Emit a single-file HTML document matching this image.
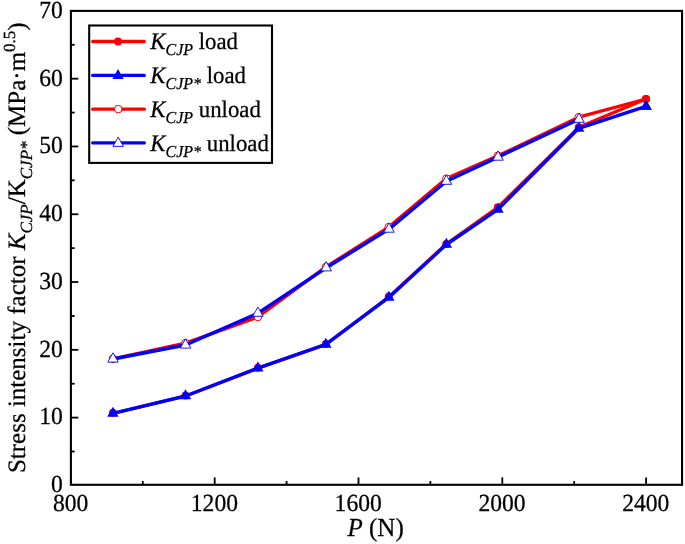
<!DOCTYPE html><html><head><meta charset="utf-8"><title>chart</title><style>html,body{margin:0;padding:0;background:#fff}svg{display:block;will-change:transform}text{font-family:"Liberation Serif",serif;fill:#000;stroke:#000;stroke-width:0.25px;text-rendering:geometricPrecision}</style></head><body>
<svg width="685" height="544" viewBox="0 0 685 544">
<rect width="685" height="544" fill="#fff"/>
<polyline points="112.90,413.40 185.50,396.10 257.85,368.30 325.85,344.50 388.70,297.00 446.20,243.90 497.80,207.30 578.70,127.30 646.00,99.00" fill="none" stroke="#ff0000" stroke-width="3.1" stroke-linejoin="round"/>
<circle cx="112.90" cy="412.80" r="3.95" fill="#ff0000" stroke="#ff0000" stroke-width="0"/>
<circle cx="185.50" cy="395.50" r="3.95" fill="#ff0000" stroke="#ff0000" stroke-width="0"/>
<circle cx="257.85" cy="367.70" r="3.95" fill="#ff0000" stroke="#ff0000" stroke-width="0"/>
<circle cx="325.85" cy="343.90" r="3.95" fill="#ff0000" stroke="#ff0000" stroke-width="0"/>
<circle cx="388.70" cy="296.40" r="3.95" fill="#ff0000" stroke="#ff0000" stroke-width="0"/>
<circle cx="446.20" cy="243.90" r="3.95" fill="#ff0000" stroke="#ff0000" stroke-width="0"/>
<circle cx="497.80" cy="207.30" r="3.95" fill="#ff0000" stroke="#ff0000" stroke-width="0"/>
<circle cx="578.70" cy="127.30" r="3.95" fill="#ff0000" stroke="#ff0000" stroke-width="0"/>
<circle cx="646.00" cy="99.00" r="3.95" fill="#ff0000" stroke="#ff0000" stroke-width="0"/>
<polyline points="112.90,413.30 185.50,396.00 257.85,368.20 325.85,344.40 388.85,297.40 446.40,244.50 498.00,209.40 578.70,128.40 646.00,106.40" fill="none" stroke="#0000ff" stroke-width="3.4" stroke-linejoin="round"/>
<polygon points="112.90,406.63 107.20,416.63 118.60,416.63" fill="#0000ff" stroke="#0000ff" stroke-width="0" stroke-linejoin="miter"/>
<polygon points="185.50,389.33 179.80,399.33 191.20,399.33" fill="#0000ff" stroke="#0000ff" stroke-width="0" stroke-linejoin="miter"/>
<polygon points="257.85,361.53 252.15,371.53 263.55,371.53" fill="#0000ff" stroke="#0000ff" stroke-width="0" stroke-linejoin="miter"/>
<polygon points="325.85,337.73 320.15,347.73 331.55,347.73" fill="#0000ff" stroke="#0000ff" stroke-width="0" stroke-linejoin="miter"/>
<polygon points="388.85,290.73 383.15,300.73 394.55,300.73" fill="#0000ff" stroke="#0000ff" stroke-width="0" stroke-linejoin="miter"/>
<polygon points="446.40,237.83 440.70,247.83 452.10,247.83" fill="#0000ff" stroke="#0000ff" stroke-width="0" stroke-linejoin="miter"/>
<polygon points="498.00,202.73 492.30,212.73 503.70,212.73" fill="#0000ff" stroke="#0000ff" stroke-width="0" stroke-linejoin="miter"/>
<polygon points="578.70,121.73 573.00,131.73 584.40,131.73" fill="#0000ff" stroke="#0000ff" stroke-width="0" stroke-linejoin="miter"/>
<polygon points="646.00,99.73 640.30,109.73 651.70,109.73" fill="#0000ff" stroke="#0000ff" stroke-width="0" stroke-linejoin="miter"/>
<polyline points="113.00,358.80 185.50,343.10 257.90,317.00 326.00,266.90 388.70,227.10 446.40,178.60 497.90,155.80 578.70,117.20 646.00,99.00" fill="none" stroke="#ff0000" stroke-width="3.3" stroke-linejoin="round"/>
<circle cx="113.00" cy="358.80" r="3.80" fill="#fff" stroke="#ff0000" stroke-width="1.0"/>
<circle cx="185.50" cy="343.10" r="3.80" fill="#fff" stroke="#ff0000" stroke-width="1.0"/>
<circle cx="257.90" cy="317.00" r="3.80" fill="#fff" stroke="#ff0000" stroke-width="1.0"/>
<circle cx="326.00" cy="266.90" r="3.80" fill="#fff" stroke="#ff0000" stroke-width="1.0"/>
<circle cx="388.70" cy="227.10" r="3.80" fill="#fff" stroke="#ff0000" stroke-width="1.0"/>
<circle cx="446.40" cy="178.60" r="3.80" fill="#fff" stroke="#ff0000" stroke-width="1.0"/>
<circle cx="497.90" cy="155.80" r="3.80" fill="#fff" stroke="#ff0000" stroke-width="1.0"/>
<circle cx="578.70" cy="117.20" r="3.80" fill="#fff" stroke="#ff0000" stroke-width="1.0"/>
<polyline points="113.00,359.00 185.50,345.00 257.90,313.20 326.20,267.80 389.00,229.10 446.40,181.20 498.00,157.10 579.00,119.20" fill="none" stroke="#0000ff" stroke-width="3.4" stroke-linejoin="round"/>
<polygon points="113.00,352.80 107.75,362.10 118.25,362.10" fill="#fff" stroke="#0000ff" stroke-width="0.9" stroke-linejoin="miter"/>
<polygon points="185.50,338.80 180.25,348.10 190.75,348.10" fill="#fff" stroke="#0000ff" stroke-width="0.9" stroke-linejoin="miter"/>
<polygon points="257.90,307.00 252.65,316.30 263.15,316.30" fill="#fff" stroke="#0000ff" stroke-width="0.9" stroke-linejoin="miter"/>
<polygon points="326.20,261.60 320.95,270.90 331.45,270.90" fill="#fff" stroke="#0000ff" stroke-width="0.9" stroke-linejoin="miter"/>
<polygon points="389.00,222.90 383.75,232.20 394.25,232.20" fill="#fff" stroke="#0000ff" stroke-width="0.9" stroke-linejoin="miter"/>
<polygon points="446.40,175.00 441.15,184.30 451.65,184.30" fill="#fff" stroke="#0000ff" stroke-width="0.9" stroke-linejoin="miter"/>
<polygon points="498.00,150.90 492.75,160.20 503.25,160.20" fill="#fff" stroke="#0000ff" stroke-width="0.9" stroke-linejoin="miter"/>
<polygon points="579.00,113.00 573.75,122.30 584.25,122.30" fill="#fff" stroke="#0000ff" stroke-width="0.9" stroke-linejoin="miter"/>
<circle cx="646.00" cy="99.00" r="4.10" fill="#ff0000" stroke="#ff0000" stroke-width="0"/>
<polygon points="646.00,99.73 640.30,109.73 651.70,109.73" fill="#0000ff" stroke="#0000ff" stroke-width="0" stroke-linejoin="miter"/>
<rect x="70.90" y="10.90" width="611.15" height="473.90" fill="none" stroke="#000" stroke-width="2.1"/>
<line x1="142.80" x2="142.80" y1="484.80" y2="481.00" stroke="#000" stroke-width="1.8"/>
<line x1="214.70" x2="214.70" y1="484.80" y2="477.40" stroke="#000" stroke-width="1.8"/>
<line x1="286.60" x2="286.60" y1="484.80" y2="481.00" stroke="#000" stroke-width="1.8"/>
<line x1="358.50" x2="358.50" y1="484.80" y2="477.40" stroke="#000" stroke-width="1.8"/>
<line x1="430.40" x2="430.40" y1="484.80" y2="481.00" stroke="#000" stroke-width="1.8"/>
<line x1="502.30" x2="502.30" y1="484.80" y2="477.40" stroke="#000" stroke-width="1.8"/>
<line x1="574.20" x2="574.20" y1="484.80" y2="481.00" stroke="#000" stroke-width="1.8"/>
<line x1="646.10" x2="646.10" y1="484.80" y2="477.40" stroke="#000" stroke-width="1.8"/>
<line x1="70.90" x2="74.70" y1="451.51" y2="451.51" stroke="#000" stroke-width="1.8"/>
<line x1="70.90" x2="78.30" y1="417.61" y2="417.61" stroke="#000" stroke-width="1.8"/>
<line x1="70.90" x2="74.70" y1="383.72" y2="383.72" stroke="#000" stroke-width="1.8"/>
<line x1="70.90" x2="78.30" y1="349.83" y2="349.83" stroke="#000" stroke-width="1.8"/>
<line x1="70.90" x2="74.70" y1="315.94" y2="315.94" stroke="#000" stroke-width="1.8"/>
<line x1="70.90" x2="78.30" y1="282.04" y2="282.04" stroke="#000" stroke-width="1.8"/>
<line x1="70.90" x2="74.70" y1="248.15" y2="248.15" stroke="#000" stroke-width="1.8"/>
<line x1="70.90" x2="78.30" y1="214.26" y2="214.26" stroke="#000" stroke-width="1.8"/>
<line x1="70.90" x2="74.70" y1="180.36" y2="180.36" stroke="#000" stroke-width="1.8"/>
<line x1="70.90" x2="78.30" y1="146.47" y2="146.47" stroke="#000" stroke-width="1.8"/>
<line x1="70.90" x2="74.70" y1="112.58" y2="112.58" stroke="#000" stroke-width="1.8"/>
<line x1="70.90" x2="78.30" y1="78.69" y2="78.69" stroke="#000" stroke-width="1.8"/>
<line x1="70.90" x2="74.70" y1="44.79" y2="44.79" stroke="#000" stroke-width="1.8"/>
<text transform="translate(70.60,511.30) scale(1,1.04)" font-size="23.6" text-anchor="middle">800</text>
<text transform="translate(214.40,511.30) scale(1,1.04)" font-size="23.6" text-anchor="middle">1200</text>
<text transform="translate(358.20,511.30) scale(1,1.04)" font-size="23.6" text-anchor="middle">1600</text>
<text transform="translate(502.00,511.30) scale(1,1.04)" font-size="23.6" text-anchor="middle">2000</text>
<text transform="translate(645.80,511.30) scale(1,1.04)" font-size="23.6" text-anchor="middle">2400</text>
<text transform="translate(62.80,492.25) scale(1,1.04)" font-size="23.6" text-anchor="end">0</text>
<text transform="translate(62.80,424.46) scale(1,1.04)" font-size="23.6" text-anchor="end">10</text>
<text transform="translate(62.80,356.68) scale(1,1.04)" font-size="23.6" text-anchor="end">20</text>
<text transform="translate(62.80,288.89) scale(1,1.04)" font-size="23.6" text-anchor="end">30</text>
<text transform="translate(62.80,221.11) scale(1,1.04)" font-size="23.6" text-anchor="end">40</text>
<text transform="translate(62.80,153.32) scale(1,1.04)" font-size="23.6" text-anchor="end">50</text>
<text transform="translate(62.80,85.54) scale(1,1.04)" font-size="23.6" text-anchor="end">60</text>
<text transform="translate(62.80,17.75) scale(1,1.04)" font-size="23.6" text-anchor="end">70</text>
<text transform="translate(375.60,535.90) scale(1,1.04)" font-size="25" text-anchor="middle"><tspan font-style="italic">P</tspan> (N)</text>
<text transform="translate(25.4,473.1) rotate(-90)" font-size="25">Stress intensity factor <tspan font-style="italic">K</tspan><tspan font-style="italic" font-size="17" dy="6.6">CJP</tspan><tspan dy="-6.6">/K</tspan><tspan font-style="italic" font-size="17" dy="6.6">CJP*</tspan><tspan dy="-6.6"> (MPa·m</tspan><tspan font-size="17" dy="-10.6">0.5</tspan><tspan dy="10.6">)</tspan></text>
<rect x="89.2" y="25.5" width="182.8" height="137.4" fill="#fff" stroke="#000" stroke-width="2.1"/>
<line x1="92.7" x2="144.3" y1="41.50" y2="41.50" stroke="#ff0000" stroke-width="3.3" stroke-linecap="round"/>
<circle cx="118.00" cy="41.50" r="3.95" fill="#ff0000" stroke="#ff0000" stroke-width="0"/>
<text transform="translate(150.30,49.20) scale(1,1.04)" font-size="22.8" text-anchor="start"><tspan font-style="italic">K</tspan><tspan font-style="italic" font-size="16" dy="6.0">CJP</tspan><tspan dy="-6.0"> load</tspan></text>
<line x1="92.7" x2="144.3" y1="75.40" y2="75.40" stroke="#0000ff" stroke-width="3.3" stroke-linecap="round"/>
<polygon points="118.00,68.93 112.30,78.93 123.70,78.93" fill="#0000ff" stroke="#0000ff" stroke-width="0" stroke-linejoin="miter"/>
<text transform="translate(150.30,83.10) scale(1,1.04)" font-size="22.8" text-anchor="start"><tspan font-style="italic">K</tspan><tspan font-style="italic" font-size="16" dy="6.0">CJP*</tspan><tspan dy="-6.0"> load</tspan></text>
<line x1="92.7" x2="144.3" y1="109.20" y2="109.20" stroke="#ff0000" stroke-width="3.3" stroke-linecap="round"/>
<circle cx="118.20" cy="109.10" r="3.80" fill="#fff" stroke="#ff0000" stroke-width="1.0"/>
<text transform="translate(150.30,116.90) scale(1,1.04)" font-size="22.8" text-anchor="start"><tspan font-style="italic">K</tspan><tspan font-style="italic" font-size="16" dy="6.0">CJP</tspan><tspan dy="-6.0"> unload</tspan></text>
<line x1="92.7" x2="144.3" y1="142.90" y2="142.90" stroke="#0000ff" stroke-width="3.3" stroke-linecap="round"/>
<polygon points="118.20,137.10 112.95,146.40 123.45,146.40" fill="#fff" stroke="#0000ff" stroke-width="0.9" stroke-linejoin="miter"/>
<text transform="translate(150.30,150.60) scale(1,1.04)" font-size="22.8" text-anchor="start"><tspan font-style="italic">K</tspan><tspan font-style="italic" font-size="16" dy="6.0">CJP*</tspan><tspan dy="-6.0"> unload</tspan></text>
</svg></body></html>
